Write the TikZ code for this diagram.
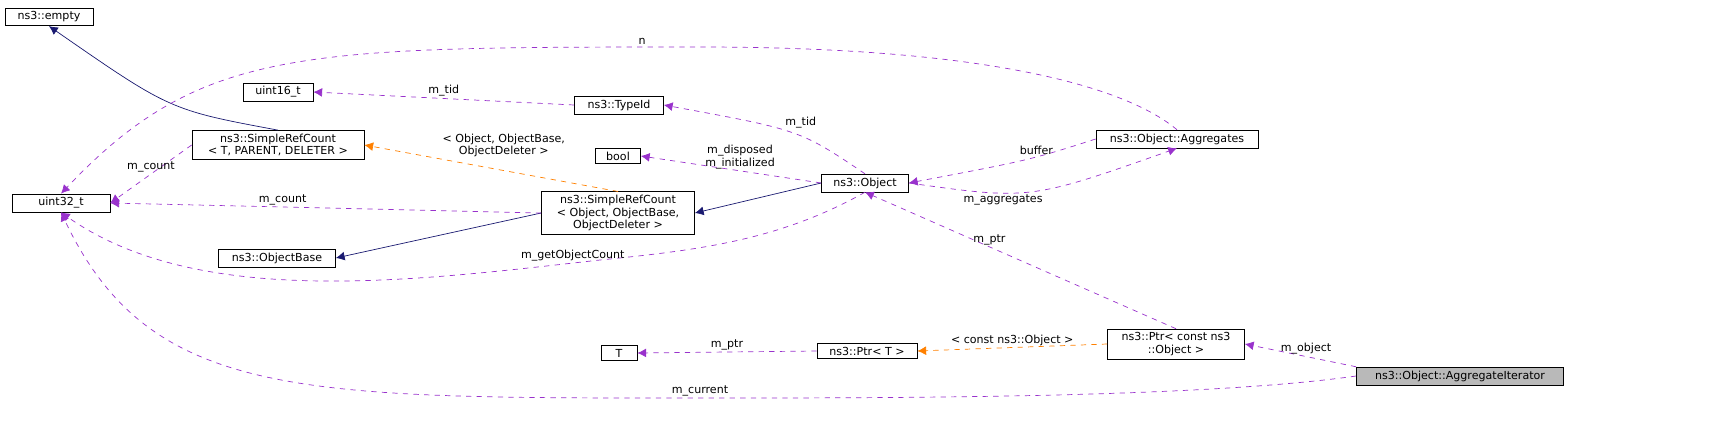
\documentclass[tikz,border=0pt]{standalone}
\usepackage{fontspec}
\setmainfont{DejaVu Sans}
\usetikzlibrary{arrows.meta}
\tikzset{
  box/.style={draw=black,fill=white,inner sep=2pt,align=center,font=\fontsize{6.3}{7}\selectfont},
  lbl/.style={font=\fontsize{6.3}{7}\selectfont,align=center,inner sep=1pt},
  dep/.style={draw={rgb,255:red,153;green,50;blue,204},dashed,-{Latex[length=5pt,width=5pt]}},
  tpl/.style={draw=orange,dashed,-{Latex[length=5pt,width=5pt]}},
  inh/.style={draw={rgb,255:red,25;green,25;blue,112},-{Latex[length=5pt,width=5pt]}}
}
\begin{document}
\begin{tikzpicture}[x=0.02cm,y=-0.02cm]
    %Nodos
    \node[box,minimum width=88*0.02cm] (empty) at (49,17) {ns3::empty};
    \node[box,minimum width=70*0.02cm] (u16) at (278,92) {uint16\_t};
    \node[box,minimum width=172*0.02cm] (srcT) at (278,145) {ns3::SimpleRefCount\\{}< T, PARENT, DELETER >};
    \node[box,minimum width=98*0.02cm] (u32) at (61,203) {uint32\_t};
    \node[box,minimum width=89*0.02cm] (tid) at (619,105) {ns3::TypeId};
    \node[box,minimum width=45*0.02cm] (bool) at (618,156) {bool};
    \node[box,minimum width=153*0.02cm] (srcO) at (618,213) {ns3::SimpleRefCount\\{}< Object, ObjectBase,\\ObjectDeleter >};
    \node[box,minimum width=117*0.02cm] (obase) at (277,258) {ns3::ObjectBase};
    \node[box,minimum width=87*0.02cm] (obj) at (865,183) {ns3::Object};
    \node[box,minimum width=162*0.02cm] (aggs) at (1177,139) {ns3::Object::Aggregates};
    \node[box,minimum width=36*0.02cm] (T) at (619,353) {T};
    \node[box,minimum width=100*0.02cm] (ptrT) at (867,351) {ns3::Ptr< T >};
    \node[box,minimum width=137*0.02cm] (ptrO) at (1176,344) {ns3::Ptr< const ns3\\::Object >};
    \node[box,fill=gray!55,minimum width=207*0.02cm] (iter) at (1460,376) {ns3::Object::AggregateIterator};

    %Herencia
    \draw[inh] (srcT.north) .. controls (170,110) .. (empty.south);
    \draw[inh] (obj.west) -- (srcO.east);
    \draw[inh] (srcO.west) -- (obase.east);

    %Miembros
    \draw[dep] (tid.west) -- node[lbl,above]{m\_tid} (u16.east);
    \draw[dep] (obj.north) .. controls (800,130) .. node[lbl,above right,pos=0.55]{m\_tid} (tid.east);
    \draw[dep] (srcT.west) -- node[lbl,above]{m\_count} (u32.east);
    \draw[tpl] (srcO.north) -- node[lbl,above right,pos=0.7]{< Object, ObjectBase,\\ObjectDeleter >} (srcT.east);
    \draw[dep] (obj.west) -- node[lbl,above,pos=0.45]{m\_disposed\\m\_initialized} (bool.east);
    \draw[dep] (srcO.west) -- node[lbl,above,pos=0.6]{m\_count} (u32.east);
    \draw[dep] (obj.south) .. controls (780,240) and (700,250) .. (600,260)
        .. controls (420,280) and (200,310) .. node[lbl,above,pos=0.05]{m\_getObjectCount} (u32.south);
    \draw[dep] (aggs.west) .. controls (1030,160) .. node[lbl,above,pos=0.4]{buffer} (obj.east);
    \draw[dep] (obj.east) .. controls (1030,200) .. node[lbl,below,pos=0.35]{m\_aggregates} (aggs.south);
    \draw[dep] (aggs.north) .. controls (1130,90) and (1000,47) .. (700,47)
        .. controls (300,47) and (200,47) .. node[lbl,above,pos=0.05]{n} (u32.north);
    \draw[dep] (ptrO.north) -- node[lbl,above,pos=0.6]{m\_ptr} (obj.south);
    \draw[dep] (ptrT.west) -- node[lbl,above]{m\_ptr} (T.east);
    \draw[tpl] (ptrO.west) -- node[lbl,above]{< const ns3::Object >} (ptrT.east);
    \draw[dep] (iter.north west) -- node[lbl,above,pos=0.45]{m\_object} (ptrO.east);
    \draw[dep] (iter.west) .. controls (1200,398) and (900,398) .. (700,398)
        .. controls (300,398) and (150,400) .. node[lbl,above,pos=0.0]{m\_current} (u32.south);
    \pgfresetboundingbox
    \useasboundingbox (0,0) rectangle (1709,440);
\end{tikzpicture}
\end{document}
